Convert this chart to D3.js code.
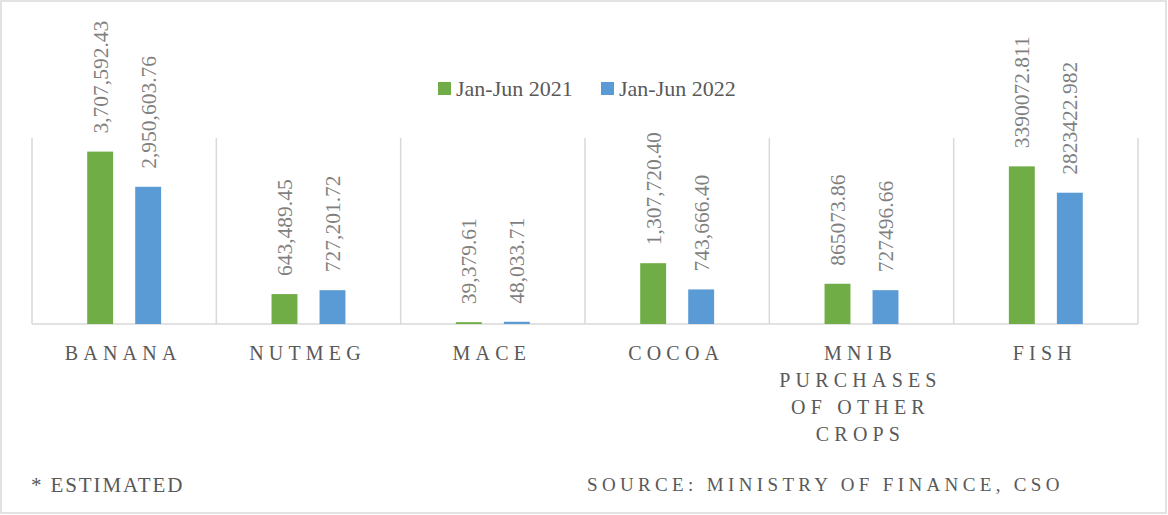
<!DOCTYPE html>
<html>
<head>
<meta charset="utf-8">
<script src="https://cdn.jsdelivr.net/npm/d3@7"></script>
<style>
  body { margin: 0; background: #fff; }
  svg text { font-family: 'Liberation Serif', 'Times New Roman', serif; }
</style>
</head>
<body>
<div id="chart"></div>
<script>
var categories = ["BANANA", "NUTMEG", "MACE", "COCOA", "MNIB PURCHASES OF OTHER CROPS", "FISH"];
var catLines = [["BANANA"], ["NUTMEG"], ["MACE"], ["COCOA"], ["MNIB", "PURCHASES", "OF OTHER", "CROPS"], ["FISH"]];
var seriesNames = ["Jan-Jun 2021", "Jan-Jun 2022"];
var values2021 = [3707592.43, 643489.45, 39379.61, 1307720.40, 865073.86, 3390072.811];
var values2022 = [2950603.76, 727201.72, 48033.71, 743666.40, 727496.66, 2823422.982];
var labels2021 = ["3,707,592.43", "643,489.45", "39,379.61", "1,307,720.40", "865073.86", "3390072.811"];
var labels2022 = ["2,950,603.76", "727,201.72", "48,033.71", "743,666.40", "727496.66", "2823422.982"];
var colors = ["#70ad47", "#5b9bd5"];

var W = 1168, H = 515;
var plot = {left: 32, right: 1138, top: 138, bottom: 324};

var svg = d3.select("#chart").append("svg")
    .attr("width", W)
    .attr("height", H);

// outer border
svg.append("rect")
    .attr("x", 1).attr("y", 1)
    .attr("width", W - 3).attr("height", H - 3)
    .attr("fill", "#fff")
    .attr("stroke", "#d9d9d9")
    .attr("stroke-width", 1.5);

var x = d3.scaleBand()
    .domain(categories)
    .range([plot.left, plot.right]);

var y = d3.scaleLinear()
    .domain([0, 4000000])
    .range([plot.bottom, plot.top]);

var sub = d3.scaleBand()
    .domain(seriesNames)
    .range([0, x.bandwidth()])
    .paddingInner(0.46)
    .paddingOuter(1.15);

// category separators
var edges = categories.map(function(c) { return x(c); }).concat([plot.right]);
svg.append("g").selectAll("line")
    .data(edges)
  .enter().append("line")
    .attr("x1", function(d) { return d; })
    .attr("x2", function(d) { return d; })
    .attr("y1", y(4000000))
    .attr("y2", y(0))
    .attr("stroke", "#d9d9d9")
    .attr("stroke-width", 1.5);

svg.append("line")
    .attr("x1", plot.left).attr("x2", plot.right)
    .attr("y1", y(0)).attr("y2", y(0))
    .attr("stroke", "#d9d9d9")
    .attr("stroke-width", 1.5);

var rows = categories.map(function(c, i) {
  return [
    {cat: c, s: seriesNames[0], v: values2021[i], label: labels2021[i], color: colors[0]},
    {cat: c, s: seriesNames[1], v: values2022[i], label: labels2022[i], color: colors[1]}
  ];
});
var flat = d3.merge(rows);

svg.append("g").selectAll("rect")
    .data(flat)
  .enter().append("rect")
    .attr("x", function(d) { return x(d.cat) + sub(d.s); })
    .attr("y", function(d) { return y(d.v); })
    .attr("width", sub.bandwidth())
    .attr("height", function(d) { return y(0) - y(d.v); })
    .attr("fill", function(d) { return d.color; });

// rotated value labels
svg.append("g").selectAll("text")
    .data(flat)
  .enter().append("text")
    .attr("transform", function(d) {
      var cx = x(d.cat) + sub(d.s) + sub.bandwidth() / 2 + 7.5;
      return "translate(" + cx + "," + (y(d.v) - 18) + ") rotate(-90)";
    })
    .attr("font-size", 21.5)
    .attr("fill", "#7f7f7f")
    .text(function(d) { return d.label; });

// category labels
var catG = svg.append("g").selectAll("text")
    .data(catLines)
  .enter().append("text")
    .attr("text-anchor", "middle")
    .attr("font-size", 20)
    .attr("letter-spacing", 5.2)
    .attr("fill", "#595959");
catG.each(function(lines, i) {
  var t = d3.select(this);
  lines.forEach(function(l, j) {
    t.append("tspan")
      .attr("x", x(categories[i]) + x.bandwidth() / 2 - 1)
      .attr("y", 360 + j * 27)
      .text(l);
  });
});

// legend
var legend = svg.append("g");
var legX = [438, 601];
seriesNames.forEach(function(s, i) {
  legend.append("rect")
    .attr("x", legX[i]).attr("y", 82)
    .attr("width", 13).attr("height", 13)
    .attr("fill", colors[i]);
  legend.append("text")
    .attr("x", legX[i] + 18).attr("y", 96)
    .attr("font-size", 22)
    .attr("fill", "#595959")
    .text(s);
});

svg.append("text")
    .attr("x", 31).attr("y", 492)
    .attr("font-size", 21)
    .attr("letter-spacing", 1.9)
    .attr("fill", "#595959")
    .text("* ESTIMATED");

svg.append("text")
    .attr("x", 587).attr("y", 491)
    .attr("font-size", 19)
    .attr("letter-spacing", 4.35)
    .attr("fill", "#595959")
    .text("SOURCE: MINISTRY OF FINANCE, CSO");
</script>
</body>
</html>
